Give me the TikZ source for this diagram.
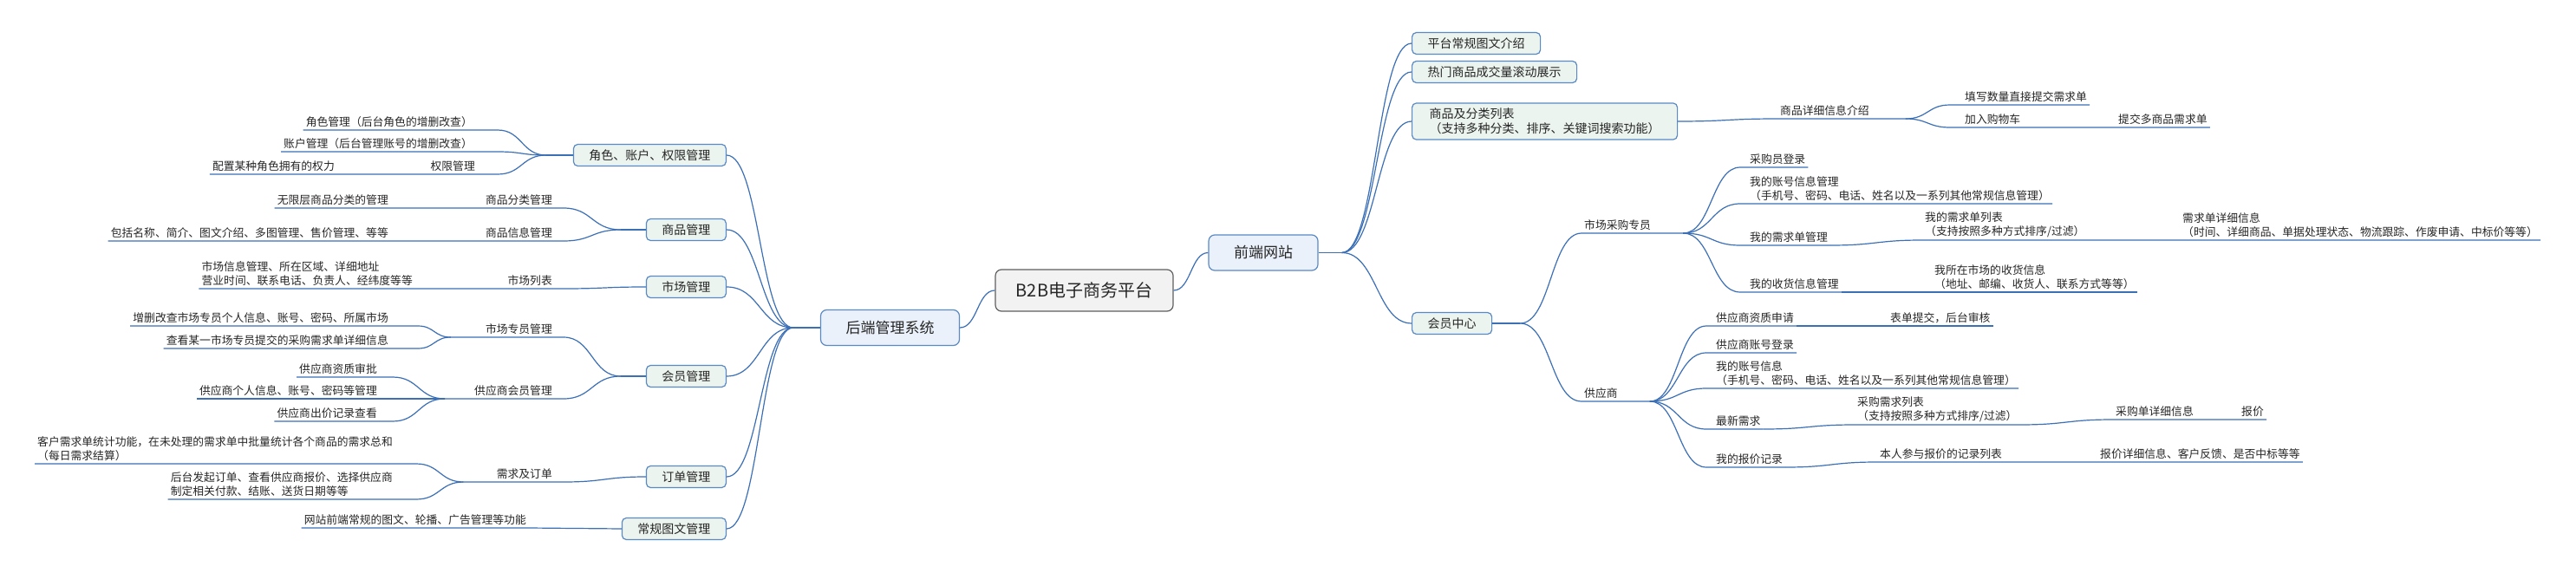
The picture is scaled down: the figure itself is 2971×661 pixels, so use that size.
\documentclass[tikz,border=0pt]{standalone}
\usepackage{fontspec}
\setmainfont{Noto Sans CJK SC}
\usepackage{tikz}
\usetikzlibrary{positioning,calc}
\definecolor{linkblue}{HTML}{3B6FB6}
\definecolor{boxline}{HTML}{5A8AC6}
\definecolor{mainfill}{HTML}{EAF1FA}
\definecolor{topicfill}{HTML}{ECF4EF}
\definecolor{rootfill}{HTML}{F2F2F2}
\definecolor{rootline}{HTML}{5F5F5F}
\definecolor{txt}{HTML}{262626}
\newcommand{\leaffont}{\fontsize{12.8}{16}\selectfont}

\begin{document}
\begin{tikzpicture}[x=1pt,y=-1pt,
  every node/.style={text=txt},
  link/.style={draw=linkblue,line width=1.2pt},
  hlink/.style={to path={let \p1=(\tikztostart), \p2=(\tikztotarget) in
     .. controls ({0.5*\x1+0.5*\x2},\y1) and ({0.5*\x1+0.5*\x2},\y2) .. (\tikztotarget) \tikztonodes}},
  rootbox/.style={draw=rootline,fill=rootfill,rounded corners=7pt,line width=1.2pt,
     minimum width=205pt,minimum height=48pt,font=\fontsize{20}{24}\selectfont},
  mainbox/.style={draw=boxline,fill=mainfill,rounded corners=7pt,line width=1.2pt,
     inner xsep=29pt,minimum height=41pt,font=\fontsize{17}{20}\selectfont},
  topic/.style={draw=boxline,fill=topicfill,rounded corners=5pt,line width=1.2pt,
     inner xsep=18pt,minimum height=25pt,font=\fontsize{14}{17}\selectfont},
  leaf/.style={inner xsep=3pt,inner ysep=3pt,align=left,font=\leaffont},
  lleaf/.style={leaf,anchor=south east},
  rleaf/.style={leaf,anchor=south west}]
\path[fill=white] (0,0) rectangle (2971,661);
\useasboundingbox (0,0) rectangle (2971,661);

% centre
\node[rootbox] (root) at (1250.5,335) {B2B电子商务平台};
\node[mainbox] (back) at (1026.5,378) {后端管理系统};
\node[mainbox] (front) at (1457,291.5) {前端网站};
\draw[link] (back.east) to[hlink] (root.west);
\draw[link] (root.east) to[hlink] (front.west);

% backend topics
\node[topic,anchor=east] (t1) at (838,179) {角色、账户、权限管理};
\node[topic,anchor=east] (t2) at (838,265) {商品管理};
\node[topic,anchor=east] (t3) at (838,331) {市场管理};
\node[topic,anchor=east] (t4) at (838,434) {会员管理};
\node[topic,anchor=east] (t5) at (838,550) {订单管理};
\node[topic,anchor=east] (t6) at (838,610) {常规图文管理};
\coordinate (bh) at ($(back.west)+(-31,0)$);
\draw[link] (back.west) -- (bh);
\foreach \t in {t1,t2,t3,t4,t5,t6}
  \draw[link] (bh) to[hlink] (\t.east);

% roles, accounts, rights
\node[lleaf] (a1) at (548,150) {角色管理（后台角色的增删改查）};
\node[lleaf] (a2) at (548,175) {账户管理（后台管理账号的增删改查）};
\node[lleaf] (a3) at (551,201) {权限管理};
\node[lleaf] (a31) at (389,201) {配置某种角色拥有的权力};
\coordinate (t1h) at ($(t1.west)+(-31,0)$);
\draw[link] (t1.west) -- (t1h);
\draw[link] (t1h) to[hlink] ([xshift=26pt]a1.south east) -- (a1.south west);
\draw[link] (t1h) to[hlink] ([xshift=26pt]a2.south east) -- (a2.south west);
\draw[link] (t1h) to[hlink] ([xshift=23pt]a3.south east) -- (a3.south west)
  -- (a31.south east) -- (a31.south west);

% goods
\node[lleaf] (b1) at (640,240) {商品分类管理};
\node[lleaf] (b11) at (451,240) {无限层商品分类的管理};
\node[lleaf] (b2) at (640,278) {商品信息管理};
\node[lleaf] (b21) at (451,278) {包括名称、简介、图文介绍、多图管理、售价管理、等等};
\coordinate (t2h) at ($(t2.west)+(-29,0)$);
\draw[link] (t2.west) -- (t2h);
\draw[link] (t2h) to[hlink] ([xshift=10pt]b1.south east) -- (b1.south west)
  -- (b11.south east) -- (b11.south west);
\draw[link] (t2h) to[hlink] ([xshift=10pt]b2.south east) -- (b2.south west)
  -- (b21.south east) -- (b21.south west);

% markets
\node[lleaf] (c1) at (640,333) {市场列表};
\node[lleaf] (c11) at (479,333) {市场信息管理、所在区域、详细地址\\营业时间、联系电话、负责人、经纬度等等};
\draw[link] (t3.west) to[hlink] ([xshift=10pt]c1.south east) -- (c1.south west)
  -- (c11.south east) -- (c11.south west);

% members
\node[lleaf] (d1) at (640,389) {市场专员管理};
\node[lleaf] (d11) at (451,376) {增删改查市场专员个人信息、账号、密码、所属市场};
\node[lleaf] (d12) at (451,402) {查看某一市场专员提交的采购需求单详细信息};
\node[lleaf] (d2) at (640,460) {供应商会员管理};
\node[lleaf] (d21) at (438,435) {供应商资质审批};
\node[lleaf] (d22) at (438,460) {供应商个人信息、账号、密码等管理};
\node[lleaf] (d23) at (438,486) {供应商出价记录查看};
\coordinate (t4h) at ($(t4.west)+(-29,0)$);
\coordinate (d1h) at ($(d1.south west)+(-37,0)$);
\coordinate (d2h) at ($(d2.south west)+(-31,0)$);
\draw[link] (t4.west) -- (t4h);
\draw[link] (t4h) to[hlink] ([xshift=10pt]d1.south east) -- (d1h);
\draw[link] (t4h) to[hlink] ([xshift=10pt]d2.south east) -- (d2h);
\draw[link] (d1h) to[hlink] ([xshift=31pt]d11.south east) -- (d11.south west);
\draw[link] (d1h) to[hlink] ([xshift=31pt]d12.south east) -- (d12.south west);
\draw[link] (d2h) to[hlink] ([xshift=15pt]d21.south east) -- (d21.south west);
\draw[link] (d2h) -- (d22.south east) -- (d22.south west);
\draw[link] (d2h) to[hlink] ([xshift=15pt]d23.south east) -- (d23.south west);

% orders
\node[lleaf] (e1) at (640,556) {需求及订单};
\node[lleaf] (e11) at (456,535) {客户需求单统计功能，在未处理的需求单中批量统计各个商品的需求总和\\（每日需求结算）};
\node[lleaf] (e12) at (456,576) {后台发起订单、查看供应商报价、选择供应商\\制定相关付款、结账、送货日期等等};
\coordinate (e1h) at ($(e1.south west)+(-35,0)$);
\draw[link] (t5.west) to[hlink] ([xshift=10pt]e1.south east) -- (e1h);
\draw[link] (e1h) to[hlink] ([xshift=24pt]e11.south east) -- (e11.south west);
\draw[link] (e1h) to[hlink] ([xshift=24pt]e12.south east) -- (e12.south west);

% pictures and texts
\node[lleaf] (g1) at (610,609) {网站前端常规的图文、轮播、广告管理等功能};
\draw[link] (t6.west) to[hlink] (g1.south east) -- (g1.south west);

% frontend topics
\node[topic,anchor=west] (f1) at (1628,50) {平台常规图文介绍};
\node[topic,anchor=west] (f2) at (1628,83) {热门商品成交量滚动展示};
\node[topic,anchor=west,align=left,inner xsep=20pt,inner ysep=6pt] (f3) at (1628,140)
  {商品及分类列表\\（支持多种分类、排序、关键词搜索功能）};
\node[topic,anchor=west] (f4) at (1628,373) {会员中心};
\coordinate (fh) at ($(front.east)+(27,0)$);
\draw[link] (front.east) -- (fh);
\foreach \f in {f1,f2,f3,f4}
  \draw[link] (fh) to[hlink] (\f.west);

% goods detail
\node[rleaf] (p1) at (2050,137) {商品详细信息介绍};
\node[rleaf] (p11) at (2263,121) {填写数量直接提交需求单};
\node[rleaf] (p12) at (2263,147) {加入购物车};
\node[rleaf] (p121) at (2440,147) {提交多商品需求单};
\coordinate (p1h) at ($(p1.south east)+(39,0)$);
\draw[link] (f3.east) to[hlink] (p1.south west) -- (p1h);
\draw[link] (p1h) to[hlink] ([xshift=-14pt]p11.south west) -- (p11.south east);
\draw[link] (p1h) to[hlink] ([xshift=-14pt]p12.south west) -- (p12.south east)
  -- (p121.south west) -- (p121.south east);

% member centre
\node[rleaf] (m1) at (1824,269) {市场采购专员};
\node[rleaf] (m2) at (1824,463) {供应商};
\coordinate (f4h) at ($(f4.east)+(32,0)$);
\coordinate (m1h) at ($(m1.south east)+(34,0)$);
\coordinate (m2h) at ($(m2.south east)+(34,0)$);
\draw[link] (f4.east) -- (f4h);
\draw[link] (f4h) to[hlink] (m1.south west) -- (m1h);
\draw[link] (f4h) to[hlink] (m2.south west) -- (m2h);

% market buyer
\node[rleaf] (m11) at (2015,193) {采购员登录};
\node[rleaf] (m12) at (2015,235) {我的账号信息管理\\（手机号、密码、电话、姓名以及一系列其他常规信息管理）};
\node[rleaf] (m13) at (2015,283) {我的需求单管理};
\node[rleaf] (m131) at (2217,277) {我的需求单列表\\（支持按照多种方式排序/过滤）};
\node[rleaf] (m1311) at (2514,277) {需求单详细信息\\（时间、详细商品、单据处理状态、物流跟踪、作废申请、中标价等等）};
\node[rleaf] (m14) at (2015,337) {我的收货信息管理};
\node[rleaf] (m141) at (2228,337) {我所在市场的收货信息\\（地址、邮编、收货人、联系方式等等）};
\foreach \m in {m11,m12,m13,m14}
  \draw[link] (m1h) to[hlink] ([xshift=-8pt]\m.south west) -- (\m.south east);
\draw[link] (m13.south east) to[hlink] (m131.south west) -- (m131.south east)
  -- (m1311.south west) -- (m1311.south east);
\draw[link] (m14.south east) -- (m141.south west) -- (m141.south east);

% supplier
\node[rleaf] (s1) at (1976,376) {供应商资质申请};
\node[rleaf] (s11) at (2177,376) {表单提交，后台审核};
\node[rleaf] (s2) at (1976,407) {供应商账号登录};
\node[rleaf] (s3) at (1976,448) {我的账号信息\\（手机号、密码、电话、姓名以及一系列其他常规信息管理）};
\node[rleaf] (s4) at (1976,495) {最新需求};
\node[rleaf] (s41) at (2139,490) {采购需求列表\\（支持按照多种方式排序/过滤）};
\node[rleaf] (s411) at (2437,484) {采购单详细信息};
\node[rleaf] (s4111) at (2582,484) {报价};
\node[rleaf] (s5) at (1976,539) {我的报价记录};
\node[rleaf] (s51) at (2165,533) {本人参与报价的记录列表};
\node[rleaf] (s511) at (2419,533) {报价详细信息、客户反馈、是否中标等等};
\foreach \s in {s1,s2,s3,s4,s5}
  \draw[link] (m2h) to[hlink] ([xshift=-8pt]\s.south west) -- (\s.south east);
\draw[link] (s1.south east) -- (s11.south west) -- (s11.south east);
\draw[link] (s4.south east) to[hlink] (s41.south west) -- (s41.south east)
  to[hlink] (s411.south west) -- (s411.south east)
  -- (s4111.south west) -- (s4111.south east);
\draw[link] (s5.south east) to[hlink] (s51.south west) -- (s51.south east)
  -- (s511.south west) -- (s511.south east);
\end{tikzpicture}
\end{document}
